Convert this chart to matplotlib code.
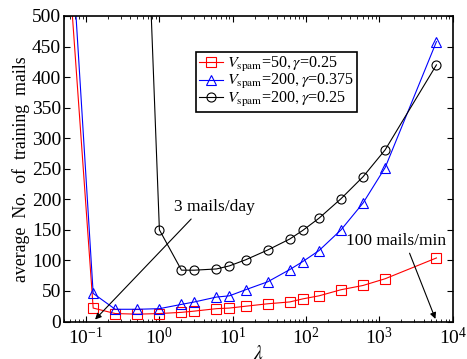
import matplotlib
matplotlib.use("Agg")
import matplotlib.pyplot as plt
from matplotlib.ticker import LogLocator, MultipleLocator

plt.rcParams['font.family'] = ['Liberation Serif', 'DejaVu Serif']
plt.rcParams['mathtext.fontset'] = 'stix'

# Data (lambda in mails/hour)
lam_red = [0.0625, 0.125, 0.25, 0.5, 1, 2, 3, 6, 9, 15, 30, 60, 90, 150, 300, 600, 1200, 6000]
red = [530, 22, 13, 12, 13, 15, 17, 21, 22, 25, 29, 32, 37, 42, 52, 59, 70, 104]

lam_blue = [0.0625, 0.125, 0.25, 0.5, 1, 2, 3, 6, 9, 15, 30, 60, 90, 150, 300, 600, 1200, 6000]
blue = [630, 46, 20, 20, 21, 28, 32, 40, 42, 52, 65, 85, 98, 116, 150, 194, 252, 458]

lam_black = [0.5, 1, 2, 3, 6, 9, 15, 30, 60, 90, 150, 300, 600, 1200, 6000]
black = [1100, 150, 84, 84, 86, 91, 101, 117, 135, 149, 169, 201, 237, 281, 420]

labels = [r'$V_{\rm spam}$=50$,\gamma$=0.25',
          r'$V_{\rm spam}$=200$,\gamma$=0.375',
          r'$V_{\rm spam}$=200$,\gamma$=0.25']

fig = plt.figure(figsize=(4.67, 3.59), dpi=100)
ax = fig.add_axes([64/467, 1 - 321.5/359, (452.7 - 64)/467, (321.5 - 16)/359])

ms = 6.5
ax.plot(lam_red, red, color='red', marker='s', mfc='none', ms=ms, lw=0.8, mew=0.8, label=labels[0])
ax.plot(lam_blue, blue, color='blue', marker='^', mfc='none', ms=ms, lw=0.8, mew=0.8, label=labels[1])
ax.plot(lam_black, black, color='black', marker='o', mfc='none', ms=ms, lw=0.8, mew=0.8, label=labels[2])

ax.set_xscale('log')
ax.set_xlim(0.05, 1e4)
ax.set_ylim(0, 500)
ax.yaxis.set_major_locator(MultipleLocator(50))
ax.xaxis.set_major_locator(LogLocator(base=10, numticks=20))
ax.xaxis.set_minor_locator(LogLocator(base=10, subs=range(2, 10), numticks=20))

ax.tick_params(which='both', direction='in', top=True, right=True, labelsize=14)
ax.tick_params(which='major', length=4, width=0.8)
ax.tick_params(which='minor', length=2, width=0.6)
ax.tick_params(axis='x', pad=4)
ax.tick_params(axis='y', pad=2)
for s in ax.spines.values():
    s.set_linewidth(1.2)

ax.set_xlabel(r'$\lambda$', fontsize=14, labelpad=-2)
ax.set_ylabel('average  No.  of  training  mails', fontsize=12.8, labelpad=1)

leg = ax.legend(loc='upper left', bbox_to_anchor=(0.34, 0.883), borderaxespad=0,
                fontsize=11.6, handlelength=1.45, handletextpad=0.25, labelspacing=-0.1,
                borderpad=0.2, fancybox=False, framealpha=1, edgecolor='black')
leg.get_frame().set_linewidth(1.2)

# Annotations
ax.annotate('', xy=(0.125, 0), xytext=(2.88, 171),
            arrowprops=dict(arrowstyle='-|>', color='black', lw=0.8, mutation_scale=9))
ax.text(5.7, 187, '3 mails/day', fontsize=12.5, ha='center', va='center')
ax.annotate('', xy=(6000, 0), xytext=(2500, 116),
            arrowprops=dict(arrowstyle='-|>', color='black', lw=0.8, mutation_scale=9))
ax.text(1700, 131, '100 mails/min', fontsize=12.5, ha='center', va='center')

fig.savefig('out.png', dpi=100)
